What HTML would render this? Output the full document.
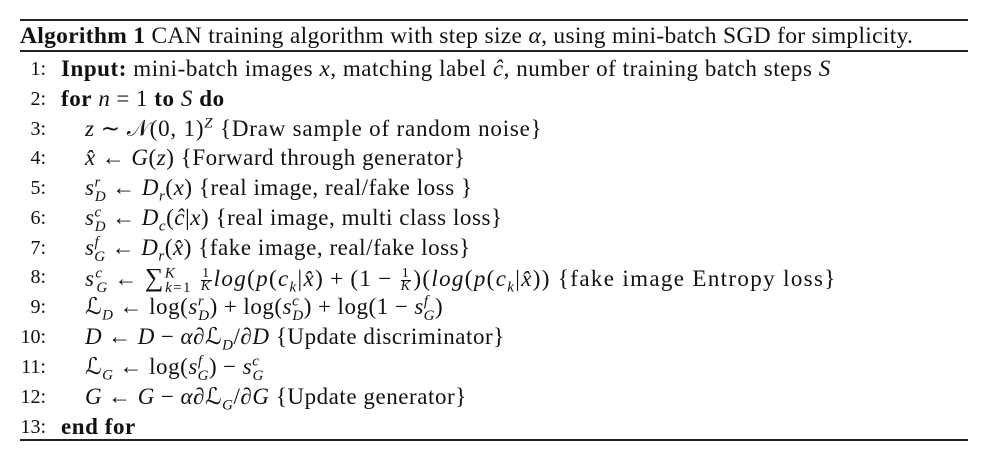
<!DOCTYPE html>
<html><head><meta charset="utf-8"><style>
body{margin:0;width:981px;height:462px;background:#fff;font-family:"Liberation Serif",serif;color:#111;position:relative;overflow:hidden}
.r{position:absolute;left:20px;width:948px;background:#222}
.l{position:absolute;font-size:23px;white-space:nowrap;line-height:1;letter-spacing:0.55px}
.n{position:absolute;font-size:20px;width:46px;text-align:right;line-height:1}
i{font-style:italic}
sub,sup{font-size:15px;line-height:0}
b{font-weight:bold}
.m{margin:0 6px}
.f{display:inline-block;vertical-align:middle;text-align:center;font-size:14px;line-height:12px;margin:0 2px}
.f span{display:block;border-bottom:1px solid #111}
</style></head><body>
<div class="r" style="top:19px;height:2px"></div>
<div class="r" style="top:50px;height:1.5px"></div>
<div class="r" style="top:439px;height:1.5px"></div>
<div class="l" style="left:20px;top:25px;font-size:23.5px;letter-spacing:0.3px"><b>Algorithm 1</b> CAN training algorithm with step size <i>α</i>, using mini-batch SGD for simplicity.</div>

<div class="n" style="left:0;top:59px">1:</div>
<div class="l" style="left:61px;top:57px"><b>Input:</b> mini-batch images <i>x</i>, matching label <i>ĉ</i>, number of training batch steps <i>S</i></div>
<div class="n" style="left:0;top:89px">2:</div>
<div class="l" style="left:61px;top:87px"><b>for</b> <i>n</i><span class="m">=</span>1 <b>to</b> <i>S</i> <b>do</b></div>
<div class="n" style="left:0;top:119px">3:</div>
<div class="l" style="left:85px;top:117px;letter-spacing:0.8px"><i>z</i><span class="m">∼</span>𝒩(0, 1)<sup><i>Z</i></sup> {Draw sample of random noise}</div>
<div class="n" style="left:0;top:148px">4:</div>
<div class="l" style="left:85px;top:146px"><i>x̂</i><span class="m">←</span><i>G</i>(<i>z</i>) {Forward through generator}</div>
<div class="n" style="left:0;top:178px">5:</div>
<div class="l" style="left:85px;top:176px"><i>s</i><sup><i>r</i></sup><sub style="margin-left:-6px"><i>D</i></sub><span class="m">←</span><i>D</i><sub><i>r</i></sub>(<i>x</i>) {real image, real/fake loss }</div>
<div class="n" style="left:0;top:208px">6:</div>
<div class="l" style="left:85px;top:206px"><i>s</i><sup><i>c</i></sup><sub style="margin-left:-7px"><i>D</i></sub><span class="m">←</span><i>D</i><sub><i>c</i></sub>(<i>ĉ</i>|<i>x</i>) {real image, multi class loss}</div>
<div class="n" style="left:0;top:238px">7:</div>
<div class="l" style="left:85px;top:236px"><i>s</i><sup><i>f</i></sup><sub style="margin-left:-5px"><i>G</i></sub><span class="m">←</span><i>D</i><sub><i>r</i></sub>(<i>x̂</i>) {fake image, real/fake loss}</div>
<div class="n" style="left:0;top:267px">8:</div>
<div class="l" style="left:85px;top:265px;letter-spacing:1.35px"><i>s</i><sup><i>c</i></sup><sub style="margin-left:-7px"><i>G</i></sub><span class="m">←</span><span style="font-size:26px">∑</span><sup><i>K</i></sup><sub style="margin-left:-11px"><i>k</i>=1</sub> <span class="f"><span>1</span><i>K</i></span><i>log</i>(<i>p</i>(<i>c</i><sub><i>k</i></sub>|<i>x̂</i>)<span class="m">+</span>(1<span class="m">−</span><span class="f"><span>1</span><i>K</i></span>)(<i>log</i>(<i>p</i>(<i>c</i><sub><i>k</i></sub>|<i>x̂</i>)) {fake image Entropy loss}</div>
<div class="n" style="left:0;top:297px">9:</div>
<div class="l" style="left:85px;top:295px">ℒ<sub><i>D</i></sub><span class="m">←</span>log(<i>s</i><sup><i>r</i></sup><sub style="margin-left:-6px"><i>D</i></sub>)<span class="m">+</span>log(<i>s</i><sup><i>c</i></sup><sub style="margin-left:-7px"><i>D</i></sub>)<span class="m">+</span>log(1<span class="m">−</span><i>s</i><sup><i>f</i></sup><sub style="margin-left:-5px"><i>G</i></sub>)</div>
<div class="n" style="left:0;top:327px">10:</div>
<div class="l" style="left:85px;top:325px"><i>D</i><span class="m">←</span><i>D</i><span class="m">−</span><i>α</i>∂ℒ<sub><i>D</i></sub>/∂<i>D</i> {Update discriminator}</div>
<div class="n" style="left:0;top:357px">11:</div>
<div class="l" style="left:85px;top:355px">ℒ<sub><i>G</i></sub><span class="m">←</span>log(<i>s</i><sup><i>f</i></sup><sub style="margin-left:-5px"><i>G</i></sub>)<span class="m">−</span><i>s</i><sup><i>c</i></sup><sub style="margin-left:-7px"><i>G</i></sub></div>
<div class="n" style="left:0;top:387px">12:</div>
<div class="l" style="left:85px;top:385px"><i>G</i><span class="m">←</span><i>G</i><span class="m">−</span><i>α</i>∂ℒ<sub><i>G</i></sub>/∂<i>G</i> {Update generator}</div>
<div class="n" style="left:0;top:417px">13:</div>
<div class="l" style="left:61px;top:415px"><b>end for</b></div>
</body></html>
